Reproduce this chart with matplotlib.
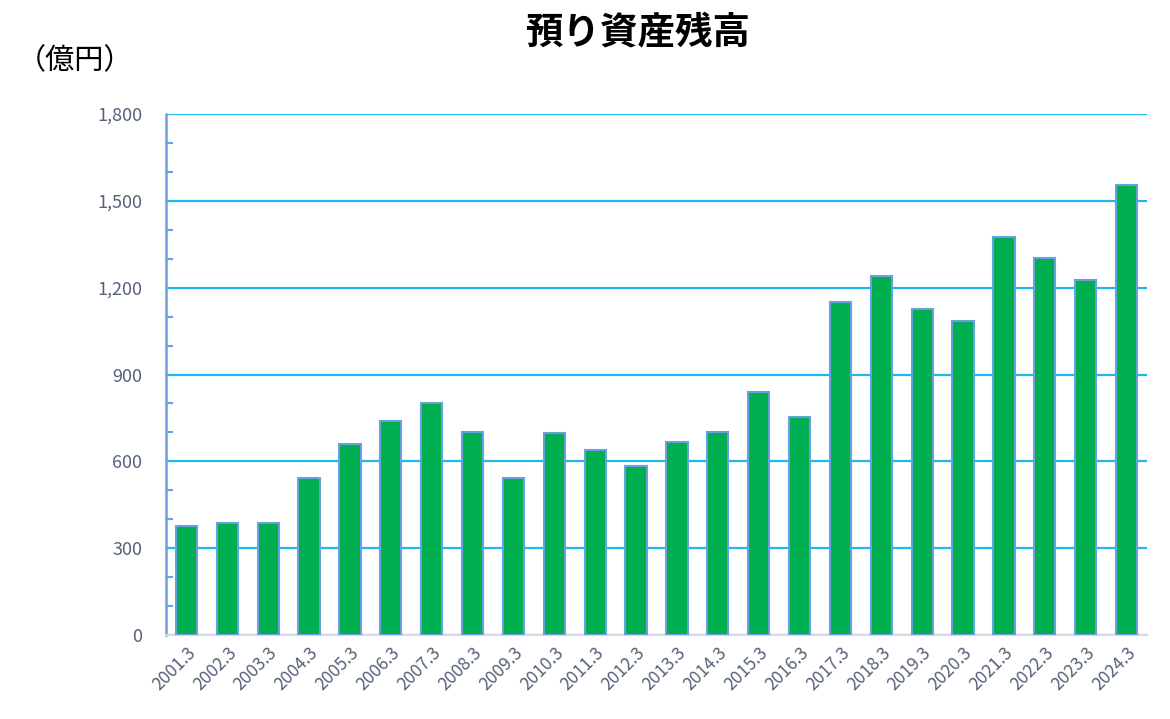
import matplotlib
matplotlib.use("Agg")
import matplotlib.pyplot as plt
from matplotlib.ticker import MultipleLocator, FuncFormatter

plt.rcParams['font.family'] = ['Noto Sans CJK JP', 'DejaVu Sans']

years = ["2001.3", "2002.3", "2003.3", "2004.3", "2005.3", "2006.3", "2007.3", "2008.3",
         "2009.3", "2010.3", "2011.3", "2012.3", "2013.3", "2014.3", "2015.3", "2016.3",
         "2017.3", "2018.3", "2019.3", "2020.3", "2021.3", "2022.3", "2023.3", "2024.3"]
balance = [378, 388, 388, 541, 659, 739, 801, 700,
           541, 697, 638, 583, 666, 700, 839, 753,
           1152, 1242, 1127, 1086, 1374, 1304, 1228, 1556]

fig = plt.figure(figsize=(11.7, 7.19), dpi=100)
ax = fig.add_axes([0.1419, 0.1168, 0.8384, 0.7246])

x = range(len(years))
ax.bar(x, balance, width=0.52, color="#00B050", edgecolor="#6A9FE0", linewidth=1.5, zorder=3)

ax.set_xlim(-0.5, len(years) - 0.5)
ax.set_ylim(0, 1800)
ax.yaxis.set_major_locator(MultipleLocator(300))
ax.yaxis.set_minor_locator(MultipleLocator(100))
ax.yaxis.set_major_formatter(FuncFormatter(lambda v, p: f"{int(v):,}"))
ax.grid(axis="y", which="major", color="#1EB8F0", linewidth=1.6, zorder=1)

ax.set_xticks(list(x))
ax.set_xticklabels(years, rotation=45, ha="right", rotation_mode="anchor")
ax.tick_params(axis="x", length=0, pad=6, labelsize=12.5, labelcolor="#56627A")
ax.tick_params(axis="y", which="both", direction="in", color="#6A9FE0", width=1.5,
               labelsize=13, labelcolor="#56627A", pad=17)
ax.tick_params(axis="y", which="major", length=0)
ax.tick_params(axis="y", which="minor", length=5)

for s in ["top", "right"]:
    ax.spines[s].set_visible(False)
ax.spines["left"].set_color("#6A9FE0")
ax.spines["left"].set_linewidth(1.8)
ax.spines["bottom"].set_color("#D6DCE5")
ax.spines["bottom"].set_linewidth(1.5)

fig.text(0.545, 0.955, "預り資産残高", ha="center", va="center", fontsize=27, fontweight="bold")
fig.text(0.014, 0.915, "（億円）", ha="left", va="center", fontsize=21)

fig.savefig("out.png", dpi=100)
